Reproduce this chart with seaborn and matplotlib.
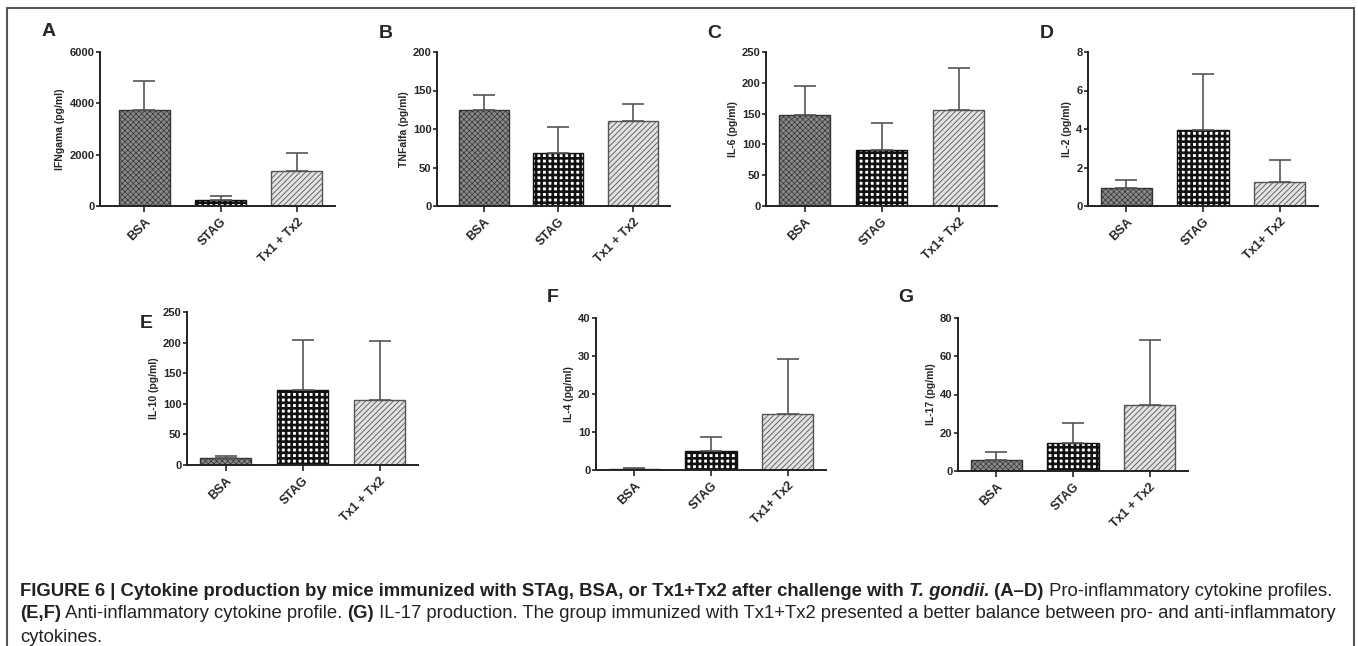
import numpy as np
import pandas as pd
import matplotlib
matplotlib.use("Agg")
import matplotlib.pyplot as plt
import seaborn as sns
from matplotlib.lines import Line2D

# valores (media y error superior)
grupos = ["BSA", "STAG", "Tx1 + Tx2"]
paneles = ["A", "B", "C", "D", "E", "F", "G"]
ylabels = ["IFNgama (pg/ml)", "TNFalfa (pg/ml)", "IL-6 (pg/ml)", "IL-2 (pg/ml)",
           "IL-10 (pg/ml)", "IL-4 (pg/ml)", "IL-17 (pg/ml)"]
xticklabels = [
    ["BSA", "STAG", "Tx1 + Tx2"],
    ["BSA", "STAG", "Tx1 + Tx2"],
    ["BSA", "STAG", "Tx1+ Tx2"],
    ["BSA", "STAG", "Tx1+ Tx2"],
    ["BSA", "STAG", "Tx1 + Tx2"],
    ["BSA", "STAG", "Tx1+ Tx2"],
    ["BSA", "STAG", "Tx1 + Tx2"],
]
medias = [
    [3740, 230, 1360],
    [125, 69, 110],
    [147, 91, 156],
    [0.92, 3.95, 1.26],
    [11, 122, 107],
    [0.3, 5.0, 14.7],
    [5.5, 14.6, 34.7],
]
errores = [
    [1130, 160, 710],
    [19, 33, 22],
    [47, 43, 68],
    [0.43, 2.9, 1.11],
    [4, 83, 96],
    [0.2, 3.6, 14.6],
    [4.6, 10.4, 34.0],
]
yticks = [
    [0, 2000, 4000, 6000],
    [0, 50, 100, 150, 200],
    [0, 50, 100, 150, 200, 250],
    [0, 2, 4, 6, 8],
    [0, 50, 100, 150, 200, 250],
    [0, 10, 20, 30, 40],
    [0, 20, 40, 60, 80],
]

sns.set_style("white")
plt.rcParams["font.family"] = ["Liberation Sans", "DejaVu Sans"]
plt.rcParams["hatch.linewidth"] = 0.6

W, H = 1358, 646
fig = plt.figure(figsize=(W / 100, H / 100), dpi=100)

# cajas de ejes en pixeles: x0, y_top, x1, y_bottom, xmin
cajas = [
    (100, 52, 335, 206, -0.58),
    (437, 52, 670, 206, -0.63),
    (766, 52, 997, 206, -0.5),
    (1088, 52, 1318, 206, -0.5),
    (187, 312, 418, 465, -0.5),
    (596, 318, 826, 470, -0.5),
    (958, 318, 1188, 471, -0.5),
]
letras_pos = [(42, 32), (379, 33), (707, 33), (1040, 33), (140, 323), (547, 298), (898, 298)]

estilos = [
    dict(face="#8a8a8a", edge="#333333", hatch="xxxxxx", hlw=0.5),
    dict(face="#ffffff", edge="#111111", hatch="+++", hlw=1.9),
    dict(face="#e2e2e2", edge="#555555", hatch="//////", hlw=0.6),
]

for i in range(7):
    x0, yt, x1, yb, xmin = cajas[i]
    ax = fig.add_axes([x0 / W, 1 - yb / H, (x1 - x0) / W, (yb - yt) / H])
    df = pd.DataFrame({"grupo": grupos, "valor": medias[i]})
    sns.barplot(data=df, x="grupo", y="valor", ax=ax, width=0.67, errorbar=None,
                color="white", saturation=1)
    for p, est in zip(ax.patches, estilos):
        p.set_facecolor(est["face"])
        p.set_edgecolor(est["edge"])
        p.set_hatch(est["hatch"])
        p.set_linewidth(1.0)
        if hasattr(p, "set_hatch_linewidth"):
            p.set_hatch_linewidth(est["hlw"])
    ax.errorbar(np.arange(3), medias[i], yerr=[np.zeros(3), errores[i]], fmt="none",
                ecolor="#555555", elinewidth=1.2, capsize=8, capthick=1.2, zorder=1)
    ax.set_ylim(0, yticks[i][-1])
    ax.set_xlim(xmin, 2.5)
    ax.set_yticks(yticks[i])
    ax.set_yticklabels([str(t) for t in yticks[i]], fontsize=8, fontweight="bold")
    ax.set_xticks(range(3))
    ax.set_xticklabels(xticklabels[i], rotation=45, ha="right", rotation_mode="anchor",
                       fontsize=9, fontweight="bold")
    ax.set_xlabel("")
    ax.set_ylabel(ylabels[i], fontsize=7.5, fontweight="bold", labelpad=3)
    sns.despine(ax=ax)
    for s in ["left", "bottom"]:
        ax.spines[s].set_color("#222222")
        ax.spines[s].set_linewidth(1.4)
    ax.tick_params(axis="y", direction="out", length=3, width=1.2, color="#222222",
                   pad=1, left=True)
    ax.tick_params(axis="x", direction="out", length=4, width=1.2, color="#222222",
                   pad=3, bottom=True)
    lx, ly = letras_pos[i]
    fig.text(lx / W, 1 - ly / H, paneles[i], fontsize=14, fontweight="bold",
             ha="left", va="center")

# marco de la figura
for xs, ys in [([7, 7], [646, 8]), ([7, 1354], [8, 8]), ([1354, 1354], [8, 646])]:
    fig.add_artist(Line2D([x / W for x in xs], [1 - y / H for y in ys],
                          color="#555555", linewidth=1.5))

# leyenda de la figura con estilos mezclados
lineas = [
    [("FIGURE 6 | Cytokine production by mice immunized with STAg, BSA, or Tx1+Tx2 after challenge with ", "bold", "normal"),
     ("T. gondii.", "bold", "italic"),
     (" (A\u2013D)", "bold", "normal"),
     (" Pro-inflammatory cytokine profiles.", "normal", "normal")],
    [("(E,F)", "bold", "normal"),
     (" Anti-inflammatory cytokine profile. ", "normal", "normal"),
     ("(G)", "bold", "normal"),
     (" IL-17 production. The group immunized with Tx1+Tx2 presented a better balance between pro- and anti-inflammatory", "normal", "normal")],
    [("cytokines.", "normal", "normal")],
]
lineas_y = [591, 614, 637]
renderer = fig.canvas.get_renderer()
for partes, y in zip(lineas, lineas_y):
    x = 20
    for txt, peso, estilo in partes:
        t = fig.text(x / W, 1 - y / H, txt, fontsize=13.3, fontweight=peso,
                     fontstyle=estilo, ha="left", va="center", color="#222222")
        bb = t.get_window_extent(renderer=renderer)
        x += bb.width

fig.savefig("out.png", dpi=100)
